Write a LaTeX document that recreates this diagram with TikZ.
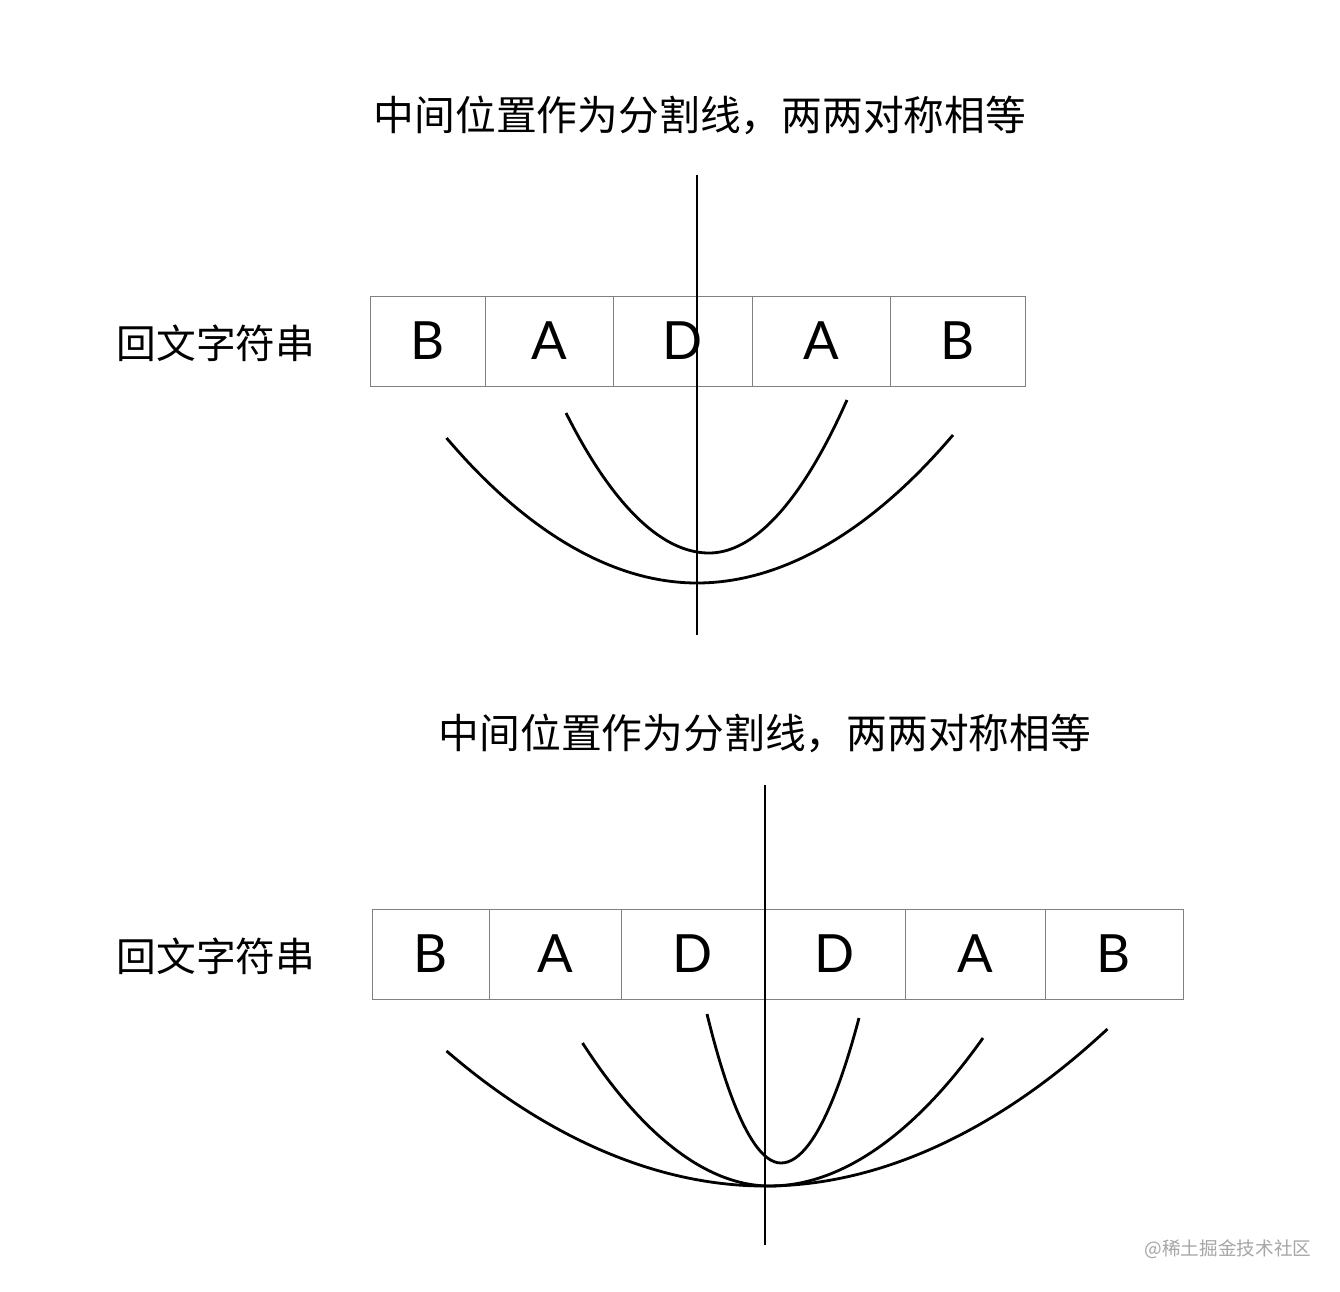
\documentclass[tikz,border=0pt]{standalone}
\usepackage{fontspec}
\newfontfamily\cjk{Noto Sans CJK SC}
\newfontfamily\latinf{Lato}
\begin{document}
\begin{tikzpicture}[x=0.02cm,y=-0.02cm,
  cell/.style={draw=black!50,line width=0.45pt,inner sep=0pt,outer sep=0pt,minimum height=1.8cm,font=\latinf\fontsize{30}{30}\selectfont},
  title/.style={font=\cjk\fontsize{23.2}{24}\selectfont,inner sep=0pt},
  label/.style={font=\cjk\fontsize{22.6}{24}\selectfont,inner sep=0pt},
  axis/.style={line width=1.6pt},
  arc/.style={line width=1.6pt}]
\useasboundingbox (0,0) rectangle (1340,1292);
\fill[white] (0,0) rectangle (1340,1292);

% ---------- top ----------
\node[title] (title1) at (700,115) {中间位置作为分割线，两两对称相等};
\node[label] (label1) at (216,343) {回文字符串};
\node[cell,minimum width=2.30cm] (a1) at (427.5,341) {B};
\node[cell,minimum width=2.56cm] (a2) at (549,341) {A};
\node[cell,minimum width=2.78cm] (a3) at (682.5,341) {D};
\node[cell,minimum width=2.76cm] (a4) at (821,341) {A};
\node[cell,minimum width=2.70cm] (a5) at (957.5,341) {B};
\coordinate (v1t) at (697,175);
\coordinate (v1b) at (697,635);
\draw[axis] (v1t) -- (v1b);
\coordinate (o1l) at (446.5,438);
\coordinate (o1v) at (697,583);
\coordinate (o1r) at (953,435);
\draw[arc] (o1l) parabola bend (o1v) (o1r);
\coordinate (i1l) at (566,413);
\coordinate (i1v) at (709,553);
\coordinate (i1r) at (847,400);
\draw[arc] (i1l) parabola bend (i1v) (i1r);

% ---------- bottom ----------
\node[title] (title2) at (765,733) {中间位置作为分割线，两两对称相等};
\node[label] (label2) at (216,956) {回文字符串};
\node[cell,minimum width=2.34cm] (b1) at (430.5,954) {B};
\node[cell,minimum width=2.64cm] (b2) at (555,954) {A};
\node[cell,minimum width=2.88cm] (b3) at (693,954) {D};
\node[cell,minimum width=2.80cm] (b4) at (835,954) {D};
\node[cell,minimum width=2.80cm] (b5) at (975,954) {A};
\node[cell,minimum width=2.76cm] (b6) at (1114,954) {B};
\coordinate (v2t) at (765,785);
\coordinate (v2b) at (765,1245);
\draw[axis] (v2t) -- (v2b);
\coordinate (o2l) at (446.5,1051);
\coordinate (o2v) at (765,1186);
\coordinate (o2r) at (1107.5,1029);
\draw[arc] (o2l) parabola bend (o2v) (o2r);
\coordinate (m2l) at (582.5,1043);
\coordinate (m2v) at (770,1186);
\coordinate (m2r) at (983,1038);
\draw[arc] (m2l) parabola bend (m2v) (m2r);
\coordinate (i2l) at (707,1014);
\coordinate (i2v) at (781,1163);
\coordinate (i2r) at (859,1018);
\draw[arc] (i2l) parabola bend (i2v) (i2r);

% watermark
\node[font=\cjk\fontsize{10.6}{12}\selectfont,text=black!35,inner sep=0pt] (wm) at (1228,1249) {@稀土掘金技术社区};
\end{tikzpicture}
\end{document}
